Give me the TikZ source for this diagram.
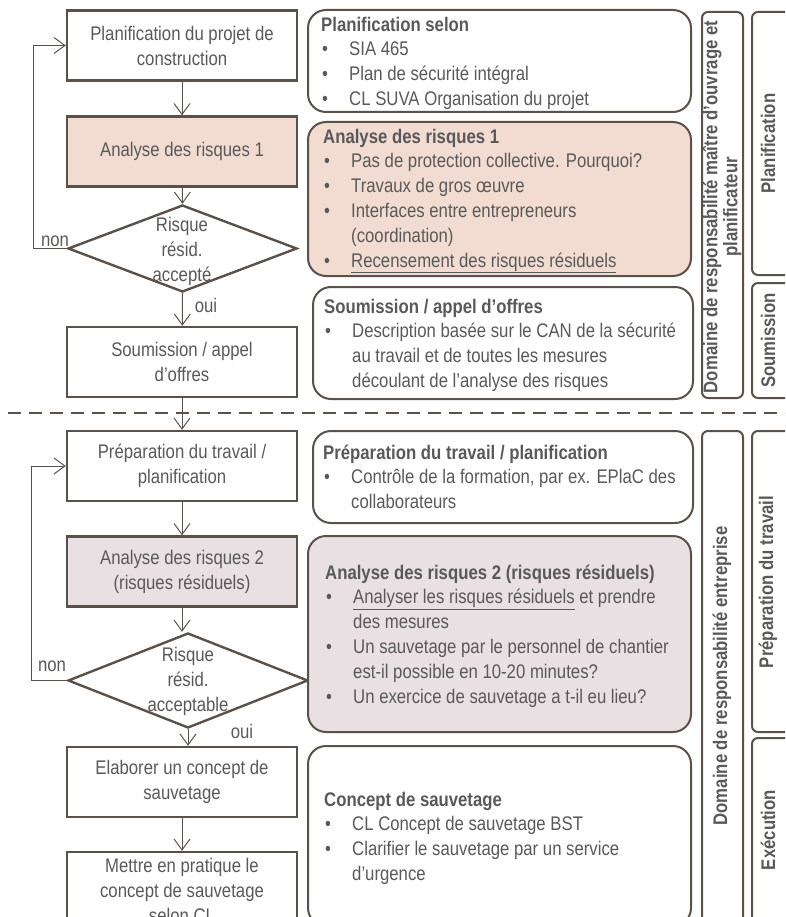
\documentclass[tikz,border=0pt]{standalone}
\usepackage{fontspec}
\setmainfont{Liberation Sans}[FakeStretch=0.85]
\usetikzlibrary{arrows.meta,shapes.geometric}
\definecolor{linec}{RGB}{90,82,74}
\definecolor{textc}{RGB}{89,89,89}
\definecolor{peach}{RGB}{242,220,210}
\definecolor{mauve}{RGB}{233,224,228}
\newcommand{\bu}{\makebox[28pt][l]{\hspace{1pt}•}}
\newcommand{\ind}{\hspace*{28pt}}
\begin{document}
\begin{tikzpicture}[x=1pt,y=-1pt,
  every node/.style={text=textc},
  mainfont/.style={font=\fontsize{19.7}{25}\selectfont},
  lbox/.style={mainfont, draw=linec, line width=2.4pt, minimum width=230pt, minimum height=70pt, align=center, inner sep=0pt},
  dia/.style={diamond, draw=linec, line width=2.4pt, fill=white, inner sep=0pt, minimum width=229pt, minimum height=87pt},
  dtext/.style={mainfont, align=center, inner sep=0pt},
  arr/.style={draw=linec, line width=1pt, -{Straight Barb[length=11pt,width=16pt]}},
  lbl/.style={mainfont, inner sep=0pt},
  rbox/.style={draw=linec, line width=2pt, rounded corners=18pt, inner sep=0pt},
  rtext/.style={anchor=north west, inner sep=0pt, align=left, font=\fontsize{19.7}{24.8}\selectfont},
  cbox/.style={draw=linec, line width=2pt, rounded corners=6pt, inner sep=0pt},
  ctext/.style={rotate=90, inner sep=0pt, align=center, font=\fontsize{19.7}{20}\selectfont\bfseries}
]
\useasboundingbox (0,0) rectangle (785,917);
\clip (0,0) rectangle (785,917);

% dashed separator
\draw[linec, line width=2pt, dash pattern=on 13pt off 8pt] (8,413) -- (790,413);

% left flow
\node[lbox] (b1) at (182,45.5) {Planification du projet de\\construction};
\node[lbox, fill=peach] (b2) at (182,151.5) {Analyse des risques 1};
\node[dia] (d1) at (182.5,248.5) {};
\node[dtext] (d1t) at (182,251) {Risque\\résid.\\accepté};
\node[lbox] (b3) at (182,362) {Soumission / appel\\d’offres};
\node[lbox] (b4) at (182,466) {Préparation du travail /\\planification};
\node[lbox, fill=mauve] (b5) at (182,571.5) {Analyse des risques 2\\(risques résiduels)};
\node[dia, minimum width=240pt, minimum height=95pt] (d2) at (188,680.5) {};
\node[dtext] (d2t) at (188,681) {Risque\\résid.\\acceptable};
\node[lbox] (b6) at (182,782) {Elaborer un concept de\\sauvetage};
\node[lbox, minimum height=76pt] (b7) at (182,890) {Mettre en pratique le\\concept de sauvetage\\selon CL};

\coordinate (L1) at (33,0);
\coordinate (L2) at (31,0);

\draw[arr] (b1) -- (b2);
\draw[arr] (b2) -- (d1.north);
\draw[arr] (d1.south) -- (b3);
\draw[arr] (b3) -- (b4);
\draw[arr] (b4) -- (b5);
\draw[arr] (b5.south) -- (b5.south |- d2.north);
\draw[arr] (d2.south) -- (d2.south |- b6.north);
\draw[arr] (b6) -- (b7);
\draw[arr] (d1.west) -- (d1.west -| L1) |- (b1.west);
\draw[arr] (d2.west) -- (d2.west -| L2) |- (b4.west);

\node[lbl] (non1) at (55,241) {non};
\node[lbl] (oui1) at (206,305) {oui};
\node[lbl] (non2) at (52,666) {non};
\node[lbl] (oui2) at (242,731) {oui};

% right boxes
\node[rbox, minimum width=383pt, minimum height=102pt] (r1) at (499.5,61) {};
\node[rbox, fill=peach, minimum width=383pt, minimum height=154pt] (r2) at (499.5,199) {};
\node[rbox, minimum width=380pt, minimum height=112pt] (r3) at (503,343) {};
\node[rbox, minimum width=380pt, minimum height=92pt] (r4) at (503,477) {};
\node[rbox, fill=mauve, minimum width=383pt, minimum height=196pt] (r5) at (499.5,634) {};
\node[rbox, minimum width=383pt, minimum height=180pt] (r6) at (499.5,836) {};

\node[rtext] (r1t) at (321,13.6) {\strut\textbf{Planification selon}\\
 \bu SIA 465\\
 \bu Plan de sécurité intégral\\
 \bu CL SUVA Organisation du projet};
\node[rtext] (r2t) at (323,125.6) {\strut\textbf{Analyse des risques 1}\\
 \bu Pas de protection collective. Pourquoi?\\
 \bu Travaux de gros œuvre\\
 \bu Interfaces entre entrepreneurs\\
 \ind (coordination)\\
 \bu \underline{Recensement des risques résiduels}};
\node[rtext] (r3t) at (324,295.6) {\strut\textbf{Soumission / appel d’offres}\\
 \bu Description basée sur le CAN de la sécurité\\
 \ind au travail et de toutes les mesures\\
 \ind découlant de l’analyse des risques};
\node[rtext] (r4t) at (323,441.6) {\strut\textbf{Préparation du travail / planification}\\
 \bu Contrôle de la formation, par ex. EPlaC des\\
 \ind collaborateurs};
\node[rtext] (r5t) at (325,561.6) {\strut\textbf{Analyse des risques 2 (risques résiduels)}\\
 \bu \underline{Analyser les risques résiduels} et prendre\\
 \ind des mesures\\
 \bu Un sauvetage par le personnel de chantier\\
 \ind est-il possible en 10-20 minutes?\\
 \bu Un exercice de sauvetage a t-il eu lieu?};
\node[rtext] (r6t) at (324,788.6) {\strut\textbf{Concept de sauvetage}\\
 \bu CL Concept de sauvetage BST\\
 \bu Clarifier le sauvetage par un service\\
 \ind d’urgence};

% responsibility columns
\node[cbox, minimum width=41pt, minimum height=386pt] (ca1) at (722.5,205) {};
\node[cbox, minimum width=48pt, minimum height=263pt] (cb1) at (776,143.5) {};
\node[cbox, minimum width=48pt, minimum height=115pt] (cb2) at (776,340.5) {};
\node[cbox, minimum width=41pt, minimum height=499pt] (ca2) at (722.5,680.5) {};
\node[cbox, minimum width=48pt, minimum height=301pt] (cb3) at (776,581.5) {};
\node[cbox, minimum width=48pt, minimum height=192pt] (cb4) at (776,834) {};

\node[ctext] (ca1t) at (723,207) {Domaine de responsabilité maître d’ouvrage et\\\underline{planificateur}};
\node[ctext] (cb1t) at (768,143.5) {Planification};
\node[ctext] (cb2t) at (768,340.5) {Soumission};
\node[ctext] (ca2t) at (722,676) {Domaine de responsabilité entreprise};
\node[ctext] (cb3t) at (768,582) {Préparation du travail};
\node[ctext] (cb4t) at (768,830) {Exécution};
\end{tikzpicture}
\end{document}
